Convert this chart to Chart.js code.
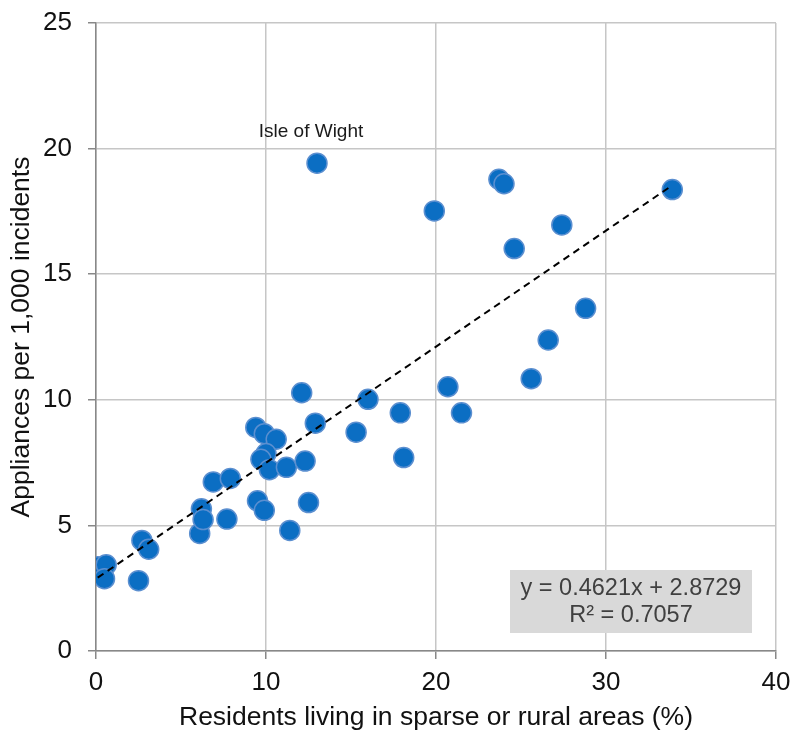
<!DOCTYPE html>
<html>
<head>
<meta charset="utf-8">
<script src="https://cdn.jsdelivr.net/npm/chart.js@4/dist/chart.umd.min.js"></script>
<style>
  html, body { margin: 0; padding: 0; background: #fff; }
  #wrap { width: 790px; height: 738px; }
</style>
</head>
<body>
<div id="wrap"><canvas id="scatter"></canvas></div>
<script>
// rural share (%) and appliances per 1,000 incidents, one entry per fire service
var ruralPct = [0.1, 0.6, 0.5, 2.5, 2.7, 3.1, 6.1, 6.2, 6.3, 7.7, 6.9, 7.9,
  9.4, 9.9, 10.6, 10.0, 9.7, 10.2, 11.2, 12.3, 9.5, 9.9, 12.5, 11.4,
  12.1, 12.9, 16.0, 15.3, 17.9, 18.1, 20.7, 21.5, 25.6, 26.6, 28.8,
  24.6, 27.4, 19.9, 23.7, 24.0, 33.9, 13.0];
var appliances = [3.35, 3.43, 2.88, 2.8, 4.4, 4.05, 4.68, 5.66, 5.23, 5.25, 6.73, 6.87,
  8.9, 8.65, 8.43, 7.86, 7.63, 7.22, 7.31, 7.56, 5.98, 5.6, 5.91, 4.8,
  10.28, 9.07, 10.02, 8.71, 9.48, 7.7, 10.52, 9.48, 10.84, 12.38, 13.64,
  16.02, 16.96, 17.52, 18.78, 18.6, 18.37, 19.42];
var labelIndex = 41;
var labelText = 'Isle of Wight';

// linear trendline from the chart
var slope = 0.4621;
var intercept = 2.8729;
var r2 = 0.7057;

var xTicks = [0, 10, 20, 30, 40];
var yTicks = [0, 5, 10, 15, 20, 25];

var FONT = "'Liberation Sans', Arial, sans-serif";

var pts = ruralPct.map(function(x, i) { return {x: x, y: appliances[i]}; });
var xMin = Math.min.apply(null, ruralPct);
var xMax = Math.max.apply(null, ruralPct);
var trend = [xMin, xMax].map(function(x) { return {x: x, y: slope * x + intercept}; });

var annotate = {
  id: 'annotate',
  afterDatasetsDraw: function(chart) {
    var ctx = chart.ctx;
    var xs = chart.scales.x, ys = chart.scales.y;
    var area = chart.chartArea;
    ctx.save();
    // point label
    var px = xs.getPixelForValue(ruralPct[labelIndex]);
    var py = ys.getPixelForValue(appliances[labelIndex]);
    ctx.font = '19px ' + FONT;
    ctx.fillStyle = '#1a1a1a';
    ctx.textAlign = 'center';
    ctx.textBaseline = 'middle';
    ctx.fillText(labelText, px - 6, py - 31);
    // equation box
    var bw = 242, bh = 63;
    var bx = area.right - 24 - bw, by = area.bottom - 18 - bh;
    ctx.fillStyle = '#d9d9d9';
    ctx.fillRect(bx, by, bw, bh);
    ctx.fillStyle = '#404040';
    ctx.font = '23.5px ' + FONT;
    ctx.fillText('y = ' + slope.toFixed(4) + 'x + ' + intercept.toFixed(4), bx + bw / 2, by + 19);
    ctx.fillText('R\u00b2 = ' + r2.toFixed(4), bx + bw / 2, by + 46);
    ctx.restore();
  }
};

var config = {
  type: 'scatter',
  data: {
    datasets: [{
      type: 'line',
      data: trend,
      borderColor: '#000',
      borderWidth: 2,
      borderDash: [7, 5],
      pointRadius: 0,
      fill: false,
      order: 0
    }, {
      data: pts,
      backgroundColor: '#0b6ec3',
      borderColor: '#5b8fd0',
      borderWidth: 1.5,
      pointRadius: 10,
      order: 1
    }]
  },
  options: {
    responsive: true,
    maintainAspectRatio: false,
    animation: false,
    layout: { padding: 0 },
    plugins: { legend: { display: false }, tooltip: { enabled: false } },
    scales: {
      x: {
        type: 'linear',
        min: 0, max: 40,
        afterFit: function(s) { s.height = 87; s.paddingLeft = 0; s.paddingRight = 14; },
        afterBuildTicks: function(s) { s.ticks = xTicks.map(function(v) { return {value: v}; }); },
        grid: { color: '#c6c6c6', lineWidth: 1.5, tickLength: 8, tickColor: '#888' },
        border: { color: '#888', width: 1.5 },
        ticks: { color: '#111', padding: 8, font: { size: 26, family: FONT } },
        title: {
          display: true,
          text: 'Residents living in sparse or rural areas (%)',
          color: '#111',
          font: { size: 26.5, family: FONT },
          padding: { top: 0, bottom: 4 }
        }
      },
      y: {
        type: 'linear',
        min: 0, max: 25,
        afterFit: function(s) { s.width = 96; s.paddingTop = 23; s.paddingBottom = 0; },
        afterBuildTicks: function(s) { s.ticks = yTicks.map(function(v) { return {value: v}; }); },
        grid: { color: '#c6c6c6', lineWidth: 1.5, tickLength: 8, tickColor: '#888' },
        border: { color: '#888', width: 1.5 },
        ticks: { color: '#111', padding: 16, font: { size: 26, family: FONT } },
        title: {
          display: true,
          text: 'Appliances per 1,000 incidents',
          color: '#111',
          font: { size: 26.5, family: FONT },
          padding: { top: 6, bottom: 0 }
        }
      }
    }
  },
  plugins: [annotate]
};

var ctx = document.getElementById('scatter').getContext('2d');
window.myScatter = new Chart(ctx, config);
</script>
</body>
</html>
